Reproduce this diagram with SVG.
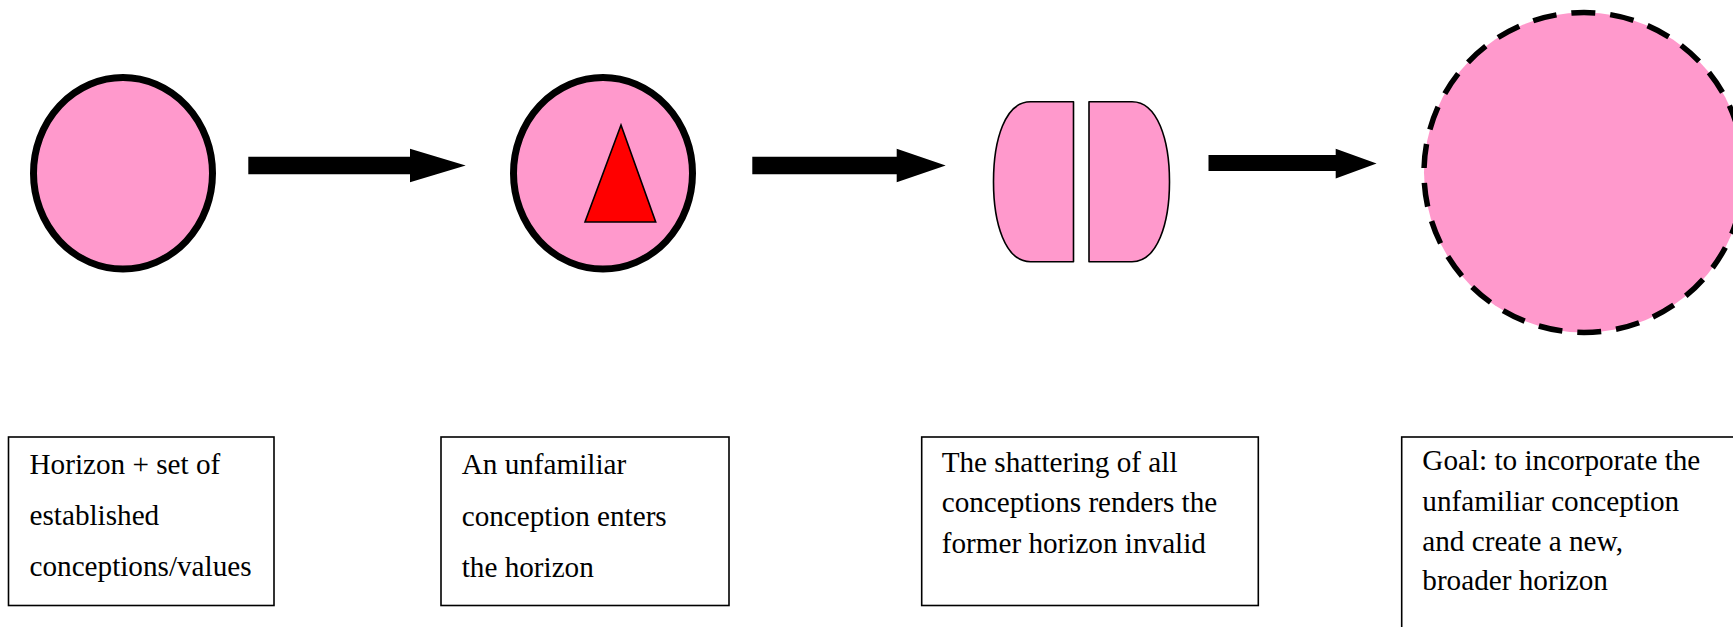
<svg xmlns="http://www.w3.org/2000/svg" width="1733" height="627" viewBox="0 0 1733 627">
<style>
.bg{fill:#ffffff}
.horizon{fill:#FF99CC;stroke:#000000;stroke-width:7}
.shard{fill:#FF99CC;stroke:#000000;stroke-width:1.6;stroke-linejoin:round}
.newh{fill:#FF99CC;stroke:#000000;stroke-width:5.5;stroke-dasharray:24 15}
.tri{fill:#FF0000;stroke:#000000;stroke-width:1.6;stroke-linejoin:miter}
.arrow{fill:#000000;stroke:none}
.box{fill:#ffffff;stroke:#000000;stroke-width:1.6}
.lbl{font-family:"Liberation Serif","Times New Roman",serif;font-size:29.2px;fill:#000000}
</style>
<rect class="bg" x="0" y="0" width="1733" height="627"/>
<g id="horizon-1">
  <ellipse class="horizon" cx="123" cy="173.3" rx="89.5" ry="95.8"/>
</g>
<g id="horizon-2">
  <ellipse class="horizon" cx="603" cy="173.3" rx="89.5" ry="95.8"/>
  <polygon class="tri" points="621,125 655.7,222 585,222"/>
</g>
<g id="horizon-3">
  <path class="shard" d="M1073.5,101.7 L1030.5,101.7 C1005,101.7 993.5,140 993.5,181.7 C993.5,223 1005,261.7 1030.5,261.7 L1073.5,261.7 Z"/>
  <path class="shard" d="M1089,101.7 L1132,101.7 C1157.5,101.7 1169.5,140 1169.5,181.7 C1169.5,223 1157.5,261.7 1132,261.7 L1089,261.7 Z"/>
</g>
<g id="horizon-4">
  <circle class="newh" cx="1584" cy="172.5" r="160"/>
</g>
<g id="connectors">
  <polygon class="arrow" points="248.3,156.7 410,156.7 410,148.7 465.7,165.5 410,182.3 410,174.3 248.3,174.3"/>
  <polygon class="arrow" points="752.3,156.7 896.7,156.7 896.7,148.7 945.7,165.5 896.7,182.3 896.7,174.3 752.3,174.3"/>
  <polygon class="arrow" points="1208.5,155 1335.7,155 1335.7,148.7 1376.6,163.5 1335.7,178.5 1335.7,171 1208.5,171"/>
</g>
<g id="label-1">
  <rect class="box" x="8.5" y="437" width="265.5" height="168.5"/>
  <text class="lbl" x="29.5" y="474.3">Horizon + set of</text>
  <text class="lbl" x="29.5" y="525.3">established</text>
  <text class="lbl" x="29.5" y="576.3">conceptions/values</text>
</g>
<g id="label-2">
  <rect class="box" x="441" y="437" width="288" height="168.5"/>
  <text class="lbl" x="461.7" y="474.3">An unfamiliar</text>
  <text class="lbl" x="461.7" y="525.5">conception enters</text>
  <text class="lbl" x="461.7" y="576.5">the horizon</text>
</g>
<g id="label-3">
  <rect class="box" x="921.7" y="437" width="336.6" height="168.5"/>
  <text class="lbl" x="941.7" y="471.5">The shattering of all</text>
  <text class="lbl" x="941.7" y="512">conceptions renders the</text>
  <text class="lbl" x="941.7" y="553">former horizon invalid</text>
</g>
<g id="label-4">
  <rect class="box" x="1401.7" y="437" width="400" height="300"/>
  <text class="lbl" x="1422.3" y="469.5">Goal: to incorporate the</text>
  <text class="lbl" x="1422.3" y="510.5">unfamiliar conception</text>
  <text class="lbl" x="1422.3" y="550.5">and create a new,</text>
  <text class="lbl" x="1422.3" y="589.5">broader horizon</text>
</g>
</svg>
